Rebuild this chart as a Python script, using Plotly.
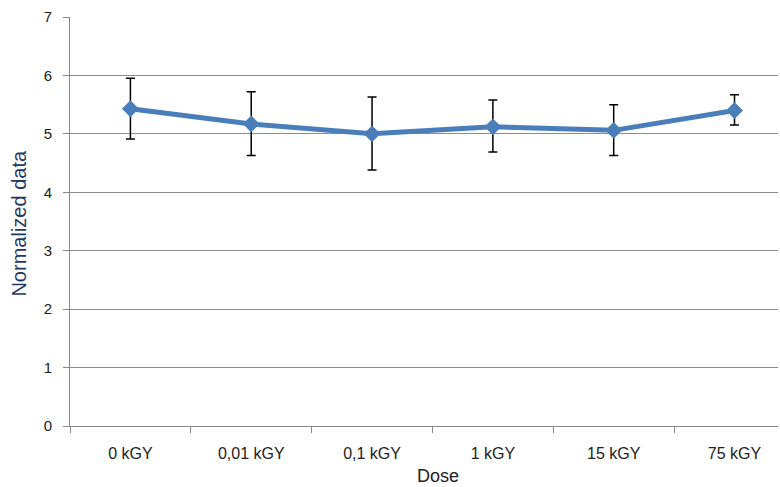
import plotly.graph_objects as go

categories = ["0 kGY", "0,01 kGY", "0,1 kGY", "1 kGY", "15 kGY", "75 kGY"]
values = [5.43, 5.17, 5.00, 5.12, 5.06, 5.40]
err_plus = [0.52, 0.55, 0.63, 0.46, 0.44, 0.27]
err_minus = [0.52, 0.54, 0.62, 0.43, 0.43, 0.25]
y_ticks = [0, 1, 2, 3, 4, 5, 6, 7]

font_family = "Liberation Sans, Arial, sans-serif"

fig = go.Figure()
fig.add_trace(go.Scatter(
    x=categories,
    y=values,
    mode="lines+markers",
    line=dict(color="#4A7EBB", width=5),
    marker=dict(symbol="diamond", size=13, color="#4A7EBB"),
    error_y=dict(type="data", symmetric=False, array=err_plus, arrayminus=err_minus,
                 color="black", thickness=1.5, width=4.5),
    showlegend=False,
))

fig.update_layout(
    width=780, height=487,
    margin=dict(l=70, r=2, t=17, b=61),
    paper_bgcolor="white", plot_bgcolor="white",
    font=dict(family=font_family, size=13, color="#222"),
    xaxis=dict(
        type="category",
        range=[-0.5, 5.36],
        automargin=False,
        tickson="boundaries",
        ticks="outside", ticklen=6, tickcolor="#888",
        showline=True, linecolor="#888", linewidth=1,
        showgrid=False,
        ticklabelstandoff=13,
        tickfont=dict(size=16, color="#222"),
    ),
    yaxis=dict(
        range=[0, 7],
        automargin=False,
        tickvals=y_ticks,
        ticks="outside", ticklen=6, tickcolor="#888",
        showline=True, linecolor="#888", linewidth=1,
        showgrid=True, gridcolor="#8c8c8c", gridwidth=1,
        zeroline=False,
        ticklabelstandoff=8,
        tickfont=dict(size=15, color="#222"),
    ),
    annotations=[
        dict(
            text="Dose", xref="paper", yref="paper", x=0.52, y=-0.122,
            xanchor="center", yanchor="middle", showarrow=False,
            font=dict(size=18, color="#222"),
        ),
        dict(
            text="Normalized data", xref="paper", yref="paper", x=-0.072, y=0.495,
            xanchor="center", yanchor="middle", showarrow=False, textangle=-90,
            font=dict(size=20, color="#1F3864"),
        ),
    ],
)

fig.write_html(
    "out.html",
    config={"displayModeBar": False},
    post_script="document.body.style.margin='0';document.body.style.overflow='hidden';",
)
